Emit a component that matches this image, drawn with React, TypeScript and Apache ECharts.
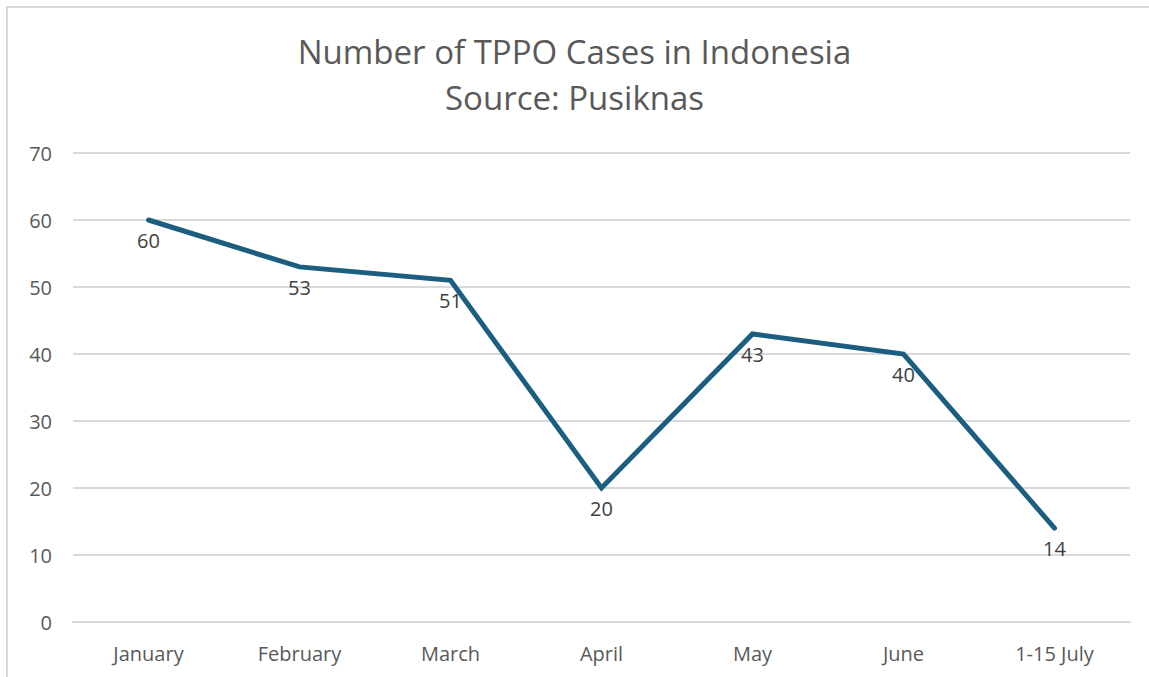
import React, { useEffect, useRef } from "react";
import * as echarts from "echarts";

const categories = ["January", "February", "March", "April", "May", "June", "1-15 July"];
const cases = [60, 53, 51, 20, 43, 40, 14];
const yTicks = { min: 0, max: 70, interval: 10 };

export default function App() {
  const ref = useRef<HTMLDivElement>(null);
  useEffect(() => {
    document.body.style.margin = "0";
    const chart = echarts.init(ref.current!, undefined, { renderer: "svg" });
    const font = "Open Sans, Liberation Sans, Arial, sans-serif";
    chart.setOption({
      animation: false,
      backgroundColor: "#ffffff",
      title: {
        text: "Number of TPPO Cases in Indonesia\nSource: Pusiknas",
        left: "center",
        top: 23,
        textStyle: {
          color: "#595959",
          fontSize: 33,
          fontWeight: "normal",
          fontFamily: font,
          lineHeight: 46,
        },
      },
      graphic: [
        {
          type: "rect",
          shape: { x: 7, y: 7, width: 1150, height: 690 },
          style: { fill: "none", stroke: "#d9d9d9", lineWidth: 2 },
          silent: true,
        },
      ],
      grid: { left: 73, right: 19, top: 153, bottom: 55, containLabel: false },
      xAxis: {
        type: "category",
        data: categories,
        boundaryGap: true,
        axisLine: { show: true, lineStyle: { color: "#d9d9d9", width: 2 } },
        axisTick: { show: false },
        axisLabel: { color: "#595959", fontSize: 20, fontFamily: font, margin: 21 },
      },
      yAxis: {
        type: "value",
        min: yTicks.min,
        max: yTicks.max,
        interval: yTicks.interval,
        axisLine: { show: false },
        axisTick: { show: false },
        splitLine: { lineStyle: { color: "#d9d9d9", width: 2 } },
        axisLabel: { color: "#595959", fontSize: 20, fontFamily: font, margin: 21 },
      },
      series: [
        {
          type: "line",
          data: cases,
          symbol: "circle",
          symbolSize: 1,
          showSymbol: true,
          itemStyle: { color: "#1b5e7f" },
          lineStyle: { color: "#1b5e7f", width: 5, cap: "round", join: "miter" },
          label: {
            show: true,
            position: "bottom",
            distance: 10,
            color: "#404040",
            fontSize: 20,
            fontFamily: font,
          },
        },
      ],
    });
    return () => chart.dispose();
  }, []);
  return <div ref={ref} style={{ position: "absolute", left: 0, top: 0, width: 1149, height: 677 }} />;
}
